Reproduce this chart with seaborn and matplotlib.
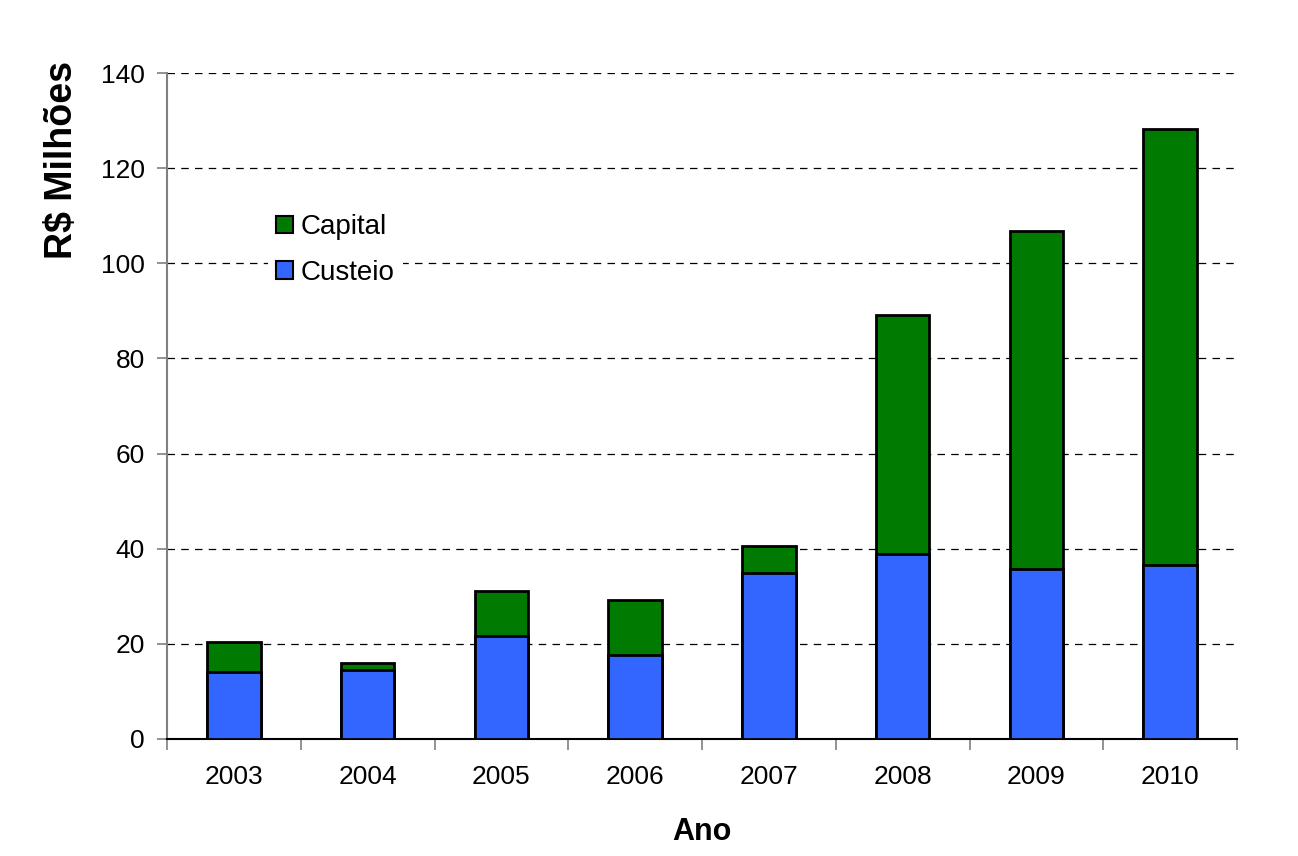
import matplotlib
matplotlib.use("Agg")
import matplotlib.pyplot as plt
import seaborn as sns
import pandas as pd
from matplotlib.patches import Patch

years = ["2003", "2004", "2005", "2006", "2007", "2008", "2009", "2010"]
custeio = [14.1, 14.6, 21.7, 17.7, 34.8, 38.9, 35.7, 36.6]
capital = [6.3, 1.3, 9.5, 11.6, 5.8, 50.2, 71.0, 91.7]
total = [c + k for c, k in zip(custeio, capital)]

df = pd.DataFrame({"Ano": years, "Custeio": custeio, "Total": total})

sns.set_theme(style="white")
plt.rcParams["font.family"] = ["Liberation Sans", "DejaVu Sans"]
plt.rcParams["text.color"] = "black"
plt.rcParams["axes.labelcolor"] = "black"

fig = plt.figure(figsize=(12.98, 8.56), dpi=100)
ax = fig.add_axes([0.1287, 0.1367, 0.8243, 0.778])

sns.barplot(data=df, x="Ano", y="Total", color="#007A00", saturation=1,
            width=0.40, edgecolor="black", linewidth=2, ax=ax, zorder=3)
sns.barplot(data=df, x="Ano", y="Custeio", color="#3366FF", saturation=1,
            width=0.40, edgecolor="black", linewidth=2, ax=ax, zorder=4)

ax.set_ylim(0, 140)
ax.set_xlim(-0.5, len(years) - 0.5)
ax.set_yticks(range(0, 141, 20))
ax.yaxis.grid(True, linestyle=(0, (6, 5)), color="black", linewidth=0.9, zorder=0)
ax.xaxis.grid(False)
ax.set_axisbelow(True)

for s in ["top", "right"]:
    ax.spines[s].set_visible(False)
ax.spines["left"].set_color("#808080")
ax.spines["left"].set_linewidth(1.5)
ax.spines["bottom"].set_color("black")
ax.spines["bottom"].set_linewidth(1.5)

ax.tick_params(axis="y", left=True, length=7, width=1.2, color="#808080",
               labelsize=19, pad=9, labelcolor="black")
ax.tick_params(axis="x", bottom=False, labelsize=19, pad=13, labelcolor="black")
ax.set_xticks([i - 0.5 for i in range(len(years) + 1)], minor=True)
ax.tick_params(axis="x", which="minor", bottom=True, length=8, width=1.2, color="#808080")

ax.set_xlabel("Ano", fontsize=22, fontweight="bold", labelpad=20, color="black")
ax.set_ylabel("R$ Milhões", fontsize=27, fontweight="bold", color="black")
ax.yaxis.set_label_coords(-0.081, 0.869)

handles = [Patch(facecolor="#007A00", edgecolor="black", linewidth=1.5),
           Patch(facecolor="#3366FF", edgecolor="black", linewidth=1.5)]
leg = ax.legend(handles, ["Capital", "Custeio"], loc="upper left",
                bbox_to_anchor=(0.081, 0.821), frameon=True, fontsize=20,
                handlelength=0.6, handleheight=0.6, handletextpad=0.3,
                labelspacing=0.7, labelcolor="black", fancybox=False,
                borderpad=0.3, borderaxespad=0.5)
leg.get_frame().set_facecolor("white")
leg.get_frame().set_edgecolor("none")
leg.get_frame().set_alpha(1)

fig.savefig("out.png", dpi=100, facecolor="white")
